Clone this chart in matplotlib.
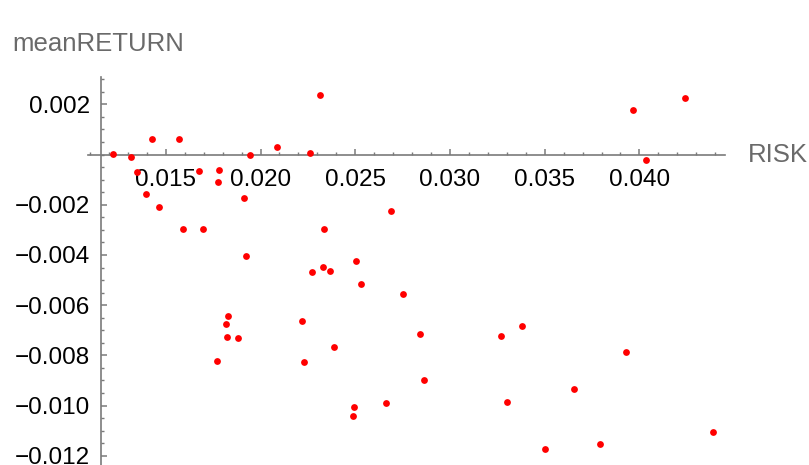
import matplotlib.pyplot as plt
from matplotlib.ticker import MultipleLocator, FixedLocator

# Dados: risco (x) e retorno médio (y)
risk = [
    0.01222, 0.01317, 0.01349, 0.01428, 0.01397, 0.01465, 0.01568, 0.01589, 0.01675, 0.01696,
    0.01782, 0.01777, 0.01911, 0.01923, 0.01942, 0.02088, 0.02259, 0.02315, 0.02336, 0.02690,
    0.03966, 0.04242, 0.04033, 0.02505, 0.02330, 0.02366, 0.02270, 0.02530, 0.01826, 0.01816,
    0.02220, 0.01823, 0.01882, 0.02386, 0.01771, 0.02229, 0.02495, 0.02490, 0.02660, 0.02753,
    0.02843, 0.03271, 0.03382, 0.03928, 0.02861, 0.03655, 0.03303, 0.04387, 0.03790, 0.03502,
]
mean_return = [
    0.000036, -0.000084, -0.00068, 0.00061, -0.00158, -0.00208, 0.00062, -0.00295, -0.00067, -0.00295,
    -0.00063, -0.00109, -0.00172, -0.00404, -0.00003, 0.00030, 0.00005, 0.00236, -0.00296, -0.00224,
    0.00178, 0.00224, -0.00020, -0.00423, -0.00448, -0.00464, -0.00469, -0.00516, -0.00642, -0.00674,
    -0.00664, -0.00725, -0.00731, -0.00767, -0.00821, -0.00826, -0.01006, -0.01040, -0.00988, -0.00555,
    -0.00715, -0.00723, -0.00683, -0.00788, -0.00899, -0.00935, -0.00987, -0.01106, -0.01153, -0.01174,
]

x_ticks = [0.015, 0.020, 0.025, 0.030, 0.035, 0.040]
y_ticks = [0.002, -0.002, -0.004, -0.006, -0.008, -0.010, -0.012]

plt.rcParams['font.family'] = ['Liberation Sans', 'DejaVu Sans']
axis_gray = '#7a7a7a'
label_gray = '#6a6a6a'

fig = plt.figure(figsize=(8.09, 4.65), dpi=100)
ax = fig.add_axes([88 / 809, -5 / 465, (725 - 88) / 809, (470 - 77) / 465])

ax.scatter(risk, mean_return, s=24, color='#ff0000', linewidths=0, zorder=5, clip_on=False)

ax.set_xlim(0.01089, 0.04452)
ax.set_ylim(-0.012566, 0.00309)

# Eixos cruzando na origem (estilo Mathematica)
ax.spines['top'].set_visible(False)
ax.spines['right'].set_visible(False)
ax.spines['left'].set_position(('data', 0.01156))
ax.spines['bottom'].set_position(('data', 0.0))
for s in ('left', 'bottom'):
    ax.spines[s].set_color(axis_gray)
    ax.spines[s].set_linewidth(1.2)

ax.xaxis.set_major_locator(FixedLocator(x_ticks))
ax.xaxis.set_minor_locator(MultipleLocator(0.001))
ax.yaxis.set_major_locator(FixedLocator(y_ticks))
ax.yaxis.set_minor_locator(MultipleLocator(0.0005))
ax.set_xticklabels([f'{v:.3f}' for v in x_ticks])
ax.set_yticklabels([f'{v:.3f}'.replace('-', '\u2212') for v in y_ticks])

ax.tick_params(which='major', direction='in', length=4.2, width=1.1, color=axis_gray,
               labelsize=17.5, labelcolor='black')
ax.tick_params(which='minor', direction='in', length=2.3, width=1.0, color=axis_gray)
ax.tick_params(axis='x', which='major', pad=10.5)
ax.tick_params(axis='y', which='major', pad=7.5)

fig.text(12 / 809, 1 - 44 / 465, 'meanRETURN', fontsize=18.5, color=label_gray, va='center', ha='left')
fig.text(748 / 809, 1 - 155 / 465, 'RISK', fontsize=18.5, color=label_gray, va='center', ha='left')

fig.savefig('out.png', dpi=100)
